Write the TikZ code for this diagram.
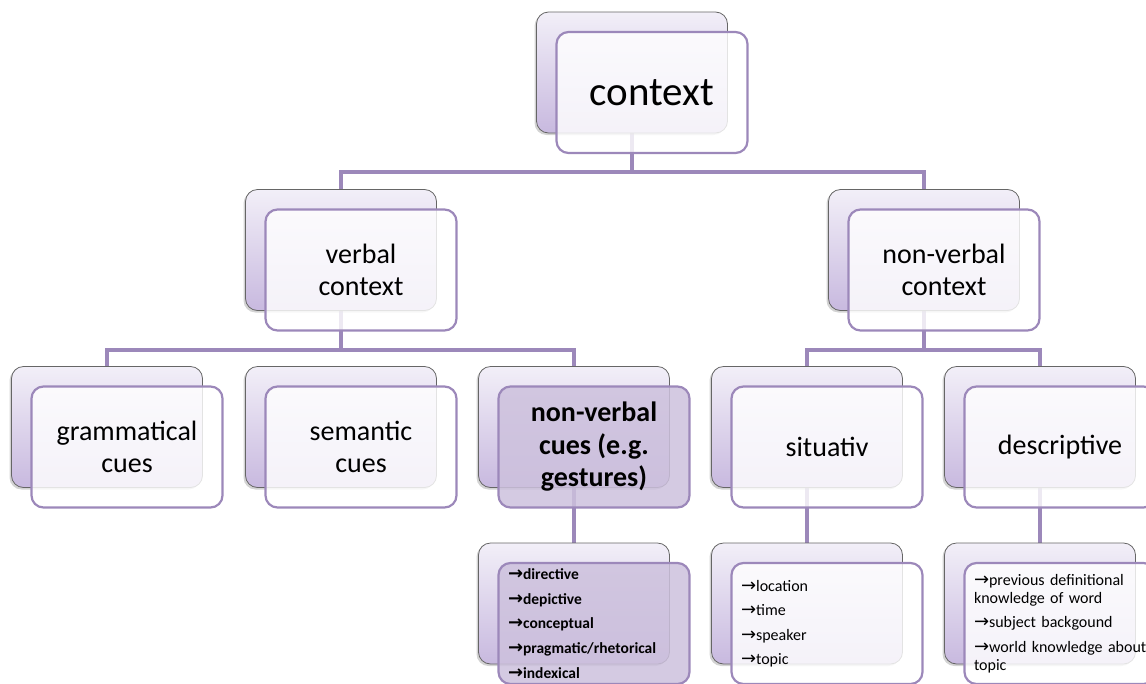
\documentclass[tikz,border=0pt]{standalone}
\usepackage{fontspec}
\setmainfont{Carlito}
\newfontfamily\arrowfont{DejaVu Sans}
\usetikzlibrary{positioning, calc, backgrounds, shadows}
\definecolor{lilac}{RGB}{156,136,186}
\definecolor{lilactop}{RGB}{242,239,248}
\definecolor{lilacbot}{RGB}{200,185,223}
\definecolor{cuefill}{RGB}{205,193,221}
\newcommand{\ar}{{\arrowfont\fontsize{18}{18}\selectfont\char"2192}}
\newcommand{\tightspace}{\spaceskip=0.17em plus 0.05em\relax}
\tikzset{
  backbox/.style={draw=black!60, line width=0.8pt, rounded corners=12pt,
    top color=lilactop, bottom color=lilacbot, minimum width=191pt, minimum height=121pt,
    drop shadow={shadow xshift=-2pt, shadow yshift=-2pt, opacity=0.35}},
  frontbox/.style={draw=lilac, line width=2.2pt, rounded corners=12pt, fill=white, fill opacity=0.82,
    text opacity=1, minimum width=191pt, minimum height=121pt, align=center, inner sep=0pt},
  cuebox/.style={frontbox, fill=cuefill, fill opacity=0.85},
  listbox/.style={frontbox, align=left, text width=172pt},
  link/.style={draw=lilac, line width=4pt},
  big/.style={font=\fontsize{41}{45}\selectfont},
  mid/.style={font=\fontsize{28}{32.5}\selectfont},
  midbold/.style={font=\fontsize{28}{32.5}\selectfont\bfseries},
  small/.style={font=\fontsize{16}{24.5}\selectfont},
  smallbold/.style={font=\fontsize{15.5}{24.7}\selectfont\bfseries},
}
\begin{document}
\begin{tikzpicture}[x=1pt, y=-1pt]
  \useasboundingbox (0,0) rectangle (1146,683);
  \clip (0,0) rectangle (1146,683);
  % level 1
  \node[backbox] (ctxB) at (632,72.5) {};
  \node[frontbox, big] (ctx) at ([shift={(20,20)}]ctxB) {context};
  % level 2
  \node[backbox] (verbB) at (341,250) {};
  \node[frontbox, mid] (verb) at ([shift={(20,20)}]verbB) {verbal\\context};
  \node[backbox] (nonvB) at (924,250) {};
  \node[frontbox, mid] (nonv) at ([shift={(20,20)}]nonvB) {non-verbal\\context};
  % level 3
  \node[backbox] (gramB) at (107,427) {};
  \node[frontbox, mid] (gram) at ([shift={(20,20)}]gramB) {grammatical\\cues};
  \node[backbox] (semB) at (341,427) {};
  \node[frontbox, mid] (sem) at ([shift={(20,20)}]semB) {semantic\\cues};
  \node[backbox] (cuesB) at (574,427) {};
  \node[cuebox, midbold] (cues) at ([shift={(20,20)}]cuesB) {non-verbal\\cues (e.g.\\gestures)};
  \node[backbox] (sitB) at (807,427) {};
  \node[frontbox, mid] (sit) at ([shift={(20,20)}]sitB) {situativ};
  \node[backbox] (descB) at (1040,427) {};
  \node[frontbox, mid] (desc) at ([shift={(20,20)}]descB) {descriptive};
  % level 4
  \node[backbox] (cueListB) at (574,603.5) {};
  \node[listbox, cuebox, align=left, smallbold] (cueList) at ([shift={(20,20)}]cueListB)
    {\ar directive\\\ar depictive\\\ar conceptual\\\ar pragmatic/rhetorical\\\ar indexical};
  \node[backbox] (sitListB) at (807,603.5) {};
  \node[listbox, small] (sitList) at ([shift={(20,20)}]sitListB)
    {\ar location\\\ar time\\\ar speaker\\\ar topic};
  \node[backbox] (descListB) at (1040,603.5) {};
  \node[listbox, font=\fontsize{16}{18}\selectfont\tightspace] (descList) at ([shift={(20,20)}]descListB)
    {\ar previous definitional\\knowledge of word\\[6.5pt]\ar subject backgound\\[6.5pt]\mbox{\ar world knowledge about}\\topic};
  % connectors
  \coordinate (bus1) at (0,172);
  \coordinate (bus2) at (0,350);
  \begin{scope}[on background layer]
    \draw[link] (ctxB.center) -- (ctxB.center |- bus1) -| (verbB.center);
    \draw[link] (ctxB.center |- bus1) -| (nonvB.center);
    \draw[link] (verbB.center) -- (verbB.center |- bus2) -| (gramB.center);
    \draw[link] (verbB.center |- bus2) -| (cuesB.center);
    \draw[link] (nonvB.center) -- (nonvB.center |- bus2) -| (sitB.center);
    \draw[link] (nonvB.center |- bus2) -| (descB.center);
    \draw[link] (cuesB) -- (cueListB);
    \draw[link] (sitB) -- (sitListB);
    \draw[link] (descB) -- (descListB);
  \end{scope}
\end{tikzpicture}
\end{document}
